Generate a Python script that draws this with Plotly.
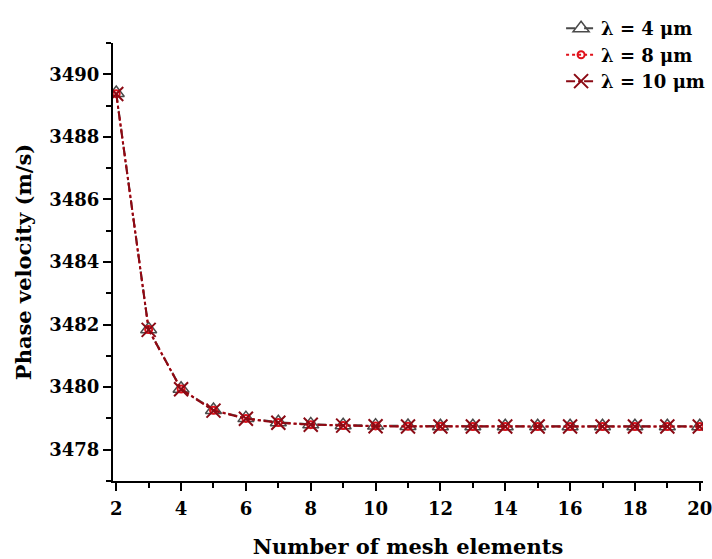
import plotly.graph_objects as go

# Mesh convergence of phase velocity for three wavelengths
mesh_elements = list(range(2, 21))
v_lambda4 = [3489.40, 3481.85, 3479.95, 3479.27, 3479.01, 3478.88, 3478.81, 3478.78, 3478.77,
             3478.76, 3478.75, 3478.75, 3478.75, 3478.75, 3478.75, 3478.75, 3478.75, 3478.75, 3478.75]
v_lambda8 = [3489.38, 3481.84, 3479.94, 3479.26, 3479.00, 3478.87, 3478.80, 3478.77, 3478.76,
             3478.75, 3478.75, 3478.74, 3478.74, 3478.74, 3478.74, 3478.74, 3478.74, 3478.74, 3478.74]
v_lambda10 = [3489.37, 3481.83, 3479.93, 3479.25, 3478.99, 3478.86, 3478.80, 3478.77, 3478.75,
              3478.74, 3478.74, 3478.74, 3478.74, 3478.74, 3478.74, 3478.74, 3478.74, 3478.74, 3478.74]
series_names = ["λ = 4 μm", "λ = 8 μm", "λ = 10 μm"]

font_family = "DejaVu Serif"

fig = go.Figure()
fig.add_trace(go.Scatter(
    x=mesh_elements, y=v_lambda4, name=series_names[0], mode="lines+markers",
    line=dict(color="#4a4a4a", width=2, dash="dash"),
    marker=dict(symbol="triangle-up-open", size=14, color="#4a4a4a", line=dict(width=1.5)),
))
fig.add_trace(go.Scatter(
    x=mesh_elements, y=v_lambda8, name=series_names[1], mode="lines+markers",
    line=dict(color="#e0101a", width=2, dash="dot"),
    marker=dict(symbol="circle-open", size=7, color="#e0101a", line=dict(width=2)),
))
fig.add_trace(go.Scatter(
    x=mesh_elements, y=v_lambda10, name=series_names[2], mode="lines+markers",
    line=dict(color="#8b0a14", width=2, dash="dashdot"),
    marker=dict(symbol="x-thin-open", size=14, color="#8b0a14", line=dict(width=2, color="#8b0a14")),
))

axis_common = dict(
    showline=True, linecolor="black", linewidth=2, mirror=False,
    ticks="outside", ticklen=8, tickwidth=2, tickcolor="black",
    showgrid=False, zeroline=False, automargin=True, ticklabeloverflow="allow",
    tickfont=dict(family=font_family, size=18, color="black", weight="bold"),
)

fig.update_xaxes(
    range=[1.9, 20.1], tickmode="linear", tick0=2, dtick=2,
    minor=dict(ticks="outside", ticklen=5, tickwidth=2, tickcolor="black", dtick=1, tick0=2),
    ticklabelstandoff=2,
    title=dict(text="<b>Number of mesh elements</b>", font=dict(family=font_family, size=21, color="black"),
               standoff=24),
    **axis_common,
)
fig.update_yaxes(
    range=[3477, 3491], tickmode="linear", tick0=3478, dtick=2,
    minor=dict(ticks="outside", ticklen=5, tickwidth=2, tickcolor="black", dtick=1, tick0=3478),
    title=dict(text="<b>Phase velocity (m/s)</b>", font=dict(family=font_family, size=21, color="black"),
               standoff=12),
    **axis_common,
)

fig.update_layout(
    width=712, height=559,
    margin=dict(l=113, r=9, t=43, b=78, autoexpand=False),
    plot_bgcolor="white", paper_bgcolor="white",
    legend=dict(
        x=1.012, y=1.075, xanchor="right", yanchor="top",
        font=dict(family=font_family, size=18, color="black", weight="bold"),
        bgcolor="rgba(0,0,0,0)", itemwidth=30, tracegroupgap=0,
    ),
)

fig.write_html("out.html")
